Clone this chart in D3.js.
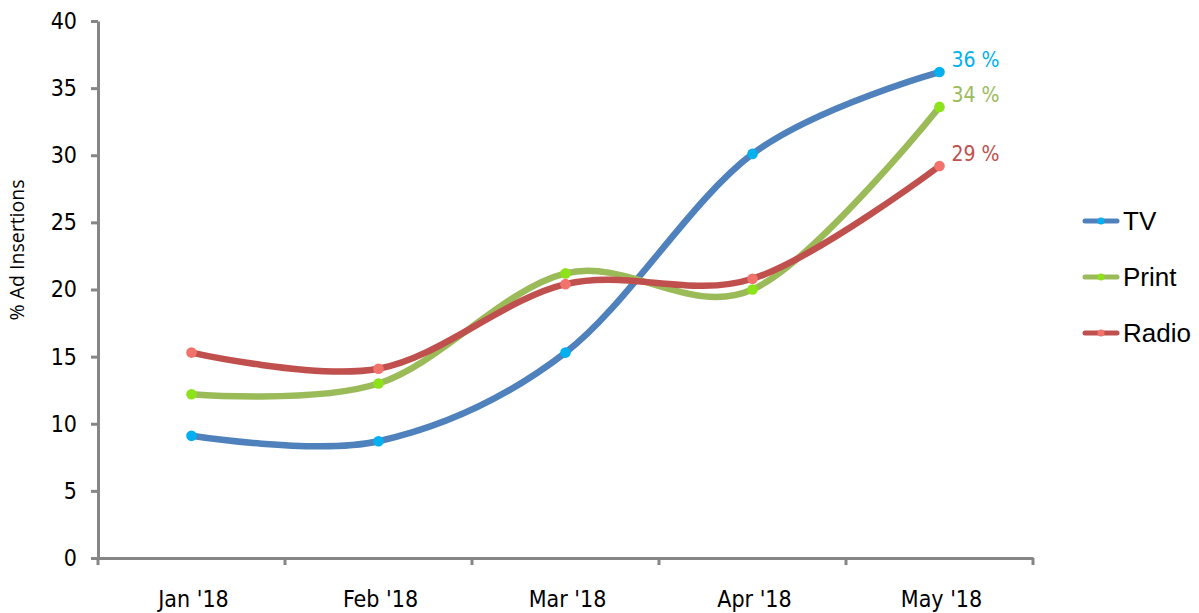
<!DOCTYPE html>
<html>
<head>
<meta charset="utf-8">
<script src="https://cdn.jsdelivr.net/npm/d3@7/dist/d3.min.js"></script>
<style>
  html, body { margin: 0; padding: 0; background: #fff; }
  svg { display: block; }
</style>
</head>
<body>
<svg id="chart" width="1199" height="613"></svg>
<script>
// Monthly share of ad insertions by medium (%)
const months = ["Jan '18", "Feb '18", "Mar '18", "Apr '18", "May '18"];
const tvValues = [9.1, 8.7, 15.3, 30.1, 36.2];
const printValues = [12.2, 13.0, 21.2, 20.0, 33.6];
const radioValues = [15.3, 14.1, 20.4, 20.8, 29.2];
const seriesNames = ["TV", "Print", "Radio"];
const endLabels = ["36 %", "34 %", "29 %"];
const yTicks = [0, 5, 10, 15, 20, 25, 30, 35, 40];

const series = [
  { name: seriesNames[0], values: tvValues, line: "#4F81BD", marker: "#00B0F0", labelColor: "#00B0F0", label: endLabels[0] },
  { name: seriesNames[1], values: printValues, line: "#9BBB59", marker: "#8EE21A", labelColor: "#9BBB59", label: endLabels[1] },
  { name: seriesNames[2], values: radioValues, line: "#C0504D", marker: "#F2726C", labelColor: "#C0504D", label: endLabels[2] }
];

const svg = d3.select("#chart");
const plot = { left: 98, right: 1033, top: 21, bottom: 558 };
const axisColor = "#868686";
const tickFont = "'DejaVu Sans Condensed', 'DejaVu Sans', sans-serif";

const x = d3.scaleBand().domain(months).range([plot.left, plot.right]).padding(0);
const y = d3.scaleLinear().domain([0, 40]).range([plot.bottom, plot.top]);
const cx = m => x(m) + x.bandwidth() / 2;

// Y axis
const yAxis = svg.append("g")
  .attr("transform", `translate(${plot.left},0)`)
  .call(d3.axisLeft(y).tickValues(yTicks).tickSize(7).tickPadding(14).tickSizeOuter(0));
yAxis.select(".domain").attr("stroke", axisColor).attr("stroke-width", 3);
yAxis.selectAll(".tick line").attr("stroke", axisColor).attr("stroke-width", 3);
yAxis.selectAll(".tick text")
  .attr("fill", "#000").style("font-family", tickFont).style("font-size", "23px");

// X axis: ticks sit on the category boundaries
const xAxis = svg.append("g")
  .attr("transform", `translate(0,${plot.bottom})`)
  .call(d3.axisBottom(x).tickSize(0).tickPadding(33));
xAxis.select(".domain").attr("stroke", axisColor).attr("stroke-width", 3);
xAxis.selectAll(".tick text")
  .attr("fill", "#000").attr("dx", 2).style("font-family", tickFont).style("font-size", "23px");
const boundaries = months.map(m => x(m)).concat([x(months[months.length - 1]) + x.bandwidth()]);
xAxis.selectAll(".boundary")
  .data(boundaries)
  .enter().append("line")
  .attr("class", "boundary")
  .attr("x1", d => d).attr("x2", d => d)
  .attr("y1", 0).attr("y2", 7)
  .attr("stroke", axisColor).attr("stroke-width", 3);

// Y axis title
svg.append("text")
  .attr("transform", `translate(24,250) rotate(-90)`)
  .attr("text-anchor", "middle")
  .style("font-family", "'Open Sans', sans-serif")
  .style("font-size", "19.5px")
  .attr("fill", "#000")
  .text("% Ad Insertions");

// Smoothed series lines
const line = d3.line()
  .x((d, i) => cx(months[i]))
  .y(d => y(d))
  .curve(d3.curveCardinal.tension(0));

series.forEach(s => {
  svg.append("path")
    .datum(s.values)
    .attr("d", line)
    .attr("fill", "none")
    .attr("stroke", s.line)
    .attr("stroke-width", 6.5)
    .attr("stroke-linecap", "round")
    .attr("stroke-linejoin", "round");
});

series.forEach(s => {
  svg.append("g").selectAll("circle")
    .data(s.values)
    .enter().append("circle")
    .attr("cx", (d, i) => cx(months[i]))
    .attr("cy", d => y(d))
    .attr("r", 5.3)
    .attr("fill", s.marker);
});

// End-of-line value labels
series.forEach(s => {
  const last = s.values.length - 1;
  svg.append("text")
    .attr("x", cx(months[last]) + 12)
    .attr("y", y(s.values[last]) - 5)
    .style("font-family", tickFont)
    .style("font-size", "21px")
    .attr("fill", s.labelColor)
    .text(s.label);
});

// Legend
const legend = svg.append("g");
series.forEach((s, i) => {
  const ly = 221 + i * 56;
  legend.append("line")
    .attr("x1", 1085).attr("x2", 1117)
    .attr("y1", ly).attr("y2", ly)
    .attr("stroke", s.line).attr("stroke-width", 5)
    .attr("stroke-linecap", "round");
  legend.append("circle")
    .attr("cx", 1101).attr("cy", ly).attr("r", 3.5)
    .attr("fill", s.marker);
  legend.append("text")
    .attr("x", 1123).attr("y", ly)
    .attr("dy", "0.36em")
    .style("font-family", "'Liberation Sans', Arial, sans-serif")
    .style("font-size", "26px")
    .attr("fill", "#000")
    .text(s.name);
});
</script>
</body>
</html>
